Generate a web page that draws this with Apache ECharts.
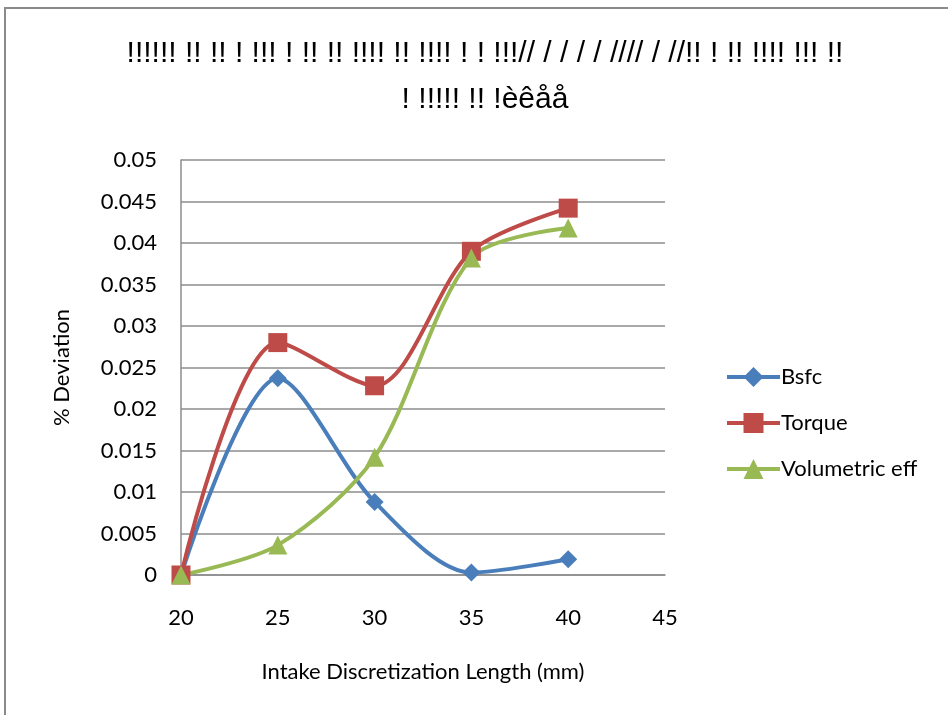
<!DOCTYPE html>
<html><head><meta charset="utf-8">
<script src="https://cdn.jsdelivr.net/npm/echarts@6/dist/echarts.min.js"></script>
<style>html,body{margin:0;padding:0;background:#fff}#c{width:948px;height:715px}</style>
</head><body><div id="c"></div>
<script>
const titleLine1 = "!!!!!! !! !! ! !!! ! !! !! !!!! !! !!!! ! ! !!!// / / / / //// / //!! ! !! !!!! !!! !!";
const titleLine2 = "! !!!!! !! !èêåå";
const xName = "Intake Discretization Length (mm)";
const yName = "% Deviation";
const xValues = [20, 25, 30, 35, 40];
const bsfc = [0, 0.0237, 0.0088, 0.0003, 0.0019];
const torque = [0, 0.0280, 0.0228, 0.0390, 0.0442];
const voleff = [0, 0.0036, 0.0142, 0.0382, 0.0418];
const seriesNames = ["Bsfc", "Torque", "Volumetric eff"];
const colors = ['#4a7ebb', '#be4b48', '#98b954'];

const pair = arr => xValues.map((x, i) => [x, arr[i]]);
const chart = echarts.init(document.getElementById('c'));
const font = 'Lato, "Open Sans", sans-serif';
chart.setOption({
  animation: false,
  graphic: [{type: 'rect', shape: {x: 5, y: 8, width: 1000, height: 1000}, style: {fill: 'none', stroke: '#8a8a8a', lineWidth: 2}}],
  title: {
    text: titleLine1 + "\n" + titleLine2,
    left: 480, textAlign: 'center', top: 26,
    textStyle: {fontFamily: 'Liberation Sans', fontSize: 30, fontWeight: 'normal', color: '#000', lineHeight: 46}
  },
  legend: {
    orient: 'vertical', left: 720, top: 361, itemGap: 24,
    itemWidth: 53, itemHeight: 25,
    textStyle: {fontFamily: font, fontSize: 22, color: '#000', padding: [0,0,0,-4]},
    lineStyle: {width: 4},
    data: seriesNames
  },
  grid: {left: 181, right: 283, top: 160, bottom: 140},
  xAxis: {
    type: 'value', min: 20, max: 45, interval: 5,
    name: xName, nameLocation: 'middle', nameGap: 86,
    nameTextStyle: {fontFamily: font, fontSize: 22, color: '#000'},
    axisLine: {show: true, lineStyle: {color: '#8c8c8c', width: 1.5}},
    axisTick: {show: false},
    splitLine: {show: false},
    axisLabel: {fontFamily: font, fontSize: 22, color: '#000', margin: 32}
  },
  yAxis: {
    type: 'value', min: 0, max: 0.05, interval: 0.005,
    name: yName, nameLocation: 'middle', nameGap: 108,
    nameTextStyle: {fontFamily: font, fontSize: 22, color: '#000'},
    axisLine: {show: true, lineStyle: {color: '#8c8c8c', width: 1.5}},
    axisTick: {show: false},
    splitLine: {show: true, lineStyle: {color: '#8c8c8c', width: 1.5}},
    axisLabel: {fontFamily: font, fontSize: 22, color: '#000', margin: 24}
  },
  series: [
    {name: seriesNames[0], type: 'line', smooth: 0.3, data: pair(bsfc), symbol: 'diamond', symbolSize: 18,
     lineStyle: {color: colors[0], width: 4}, itemStyle: {color: colors[0]}},
    {name: seriesNames[1], type: 'line', smooth: 0.3, data: pair(torque), symbol: 'rect', symbolSize: 19,
     lineStyle: {color: colors[1], width: 4}, itemStyle: {color: colors[1]}},
    {name: seriesNames[2], type: 'line', smooth: 0.3, data: pair(voleff), symbol: 'triangle', symbolSize: 19,
     lineStyle: {color: colors[2], width: 4}, itemStyle: {color: colors[2]}}
  ]
});
</script></body></html>
